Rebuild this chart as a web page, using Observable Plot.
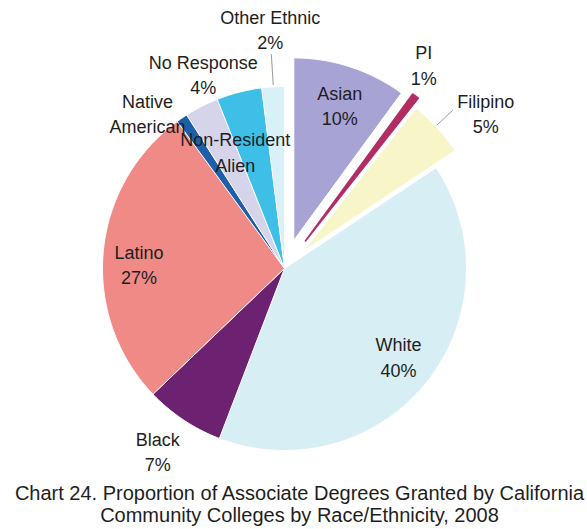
<!DOCTYPE html>
<html><head><meta charset="utf-8">
<script src="https://cdn.jsdelivr.net/npm/d3@7"></script>
<script src="https://cdn.jsdelivr.net/npm/@observablehq/plot@0.6"></script>
<style>
body{margin:0;background:#fff;font-family:"Liberation Sans",Arial,sans-serif;}
#cap{width:587px;text-align:center;font-size:20px;line-height:22px;color:#1e1e1e;padding-left:12px;box-sizing:border-box;margin-top:4px;white-space:nowrap}
</style></head><body>
<div id="chart"></div>
<div id="cap">Chart 24. Proportion of Associate Degrees Granted by California<br>Community Colleges by Race/Ethnicity, 2008</div>
<script>
// ---- data ----
const categories = ["Asian","PI","Filipino","White","Black","Latino","Native American","Non-Resident Alien","No Response","Other Ethnic"];
const shares = [10, 0.6, 5, 40, 7, 27, 1, 3, 4, 2];
const labelNames = ["Asian","PI","Filipino","White","Black","Latino","Native\nAmerican","Non-Resident\nAlien","No Response","Other Ethnic"];
const pctLabels = ["10%","1%","5%","40%","7%","27%","","","4%","2%"];
const colors = ["#a8a3d5","#b22d62","#f8f6c9","#d8eef5","#6c2271","#f08a86","#1f5ea8","#d6d4ea","#3dbfe8","#d8f0f8"];

// ---- layout (not data) ----
const W = 587, H = 478, CX = 284, CY = 268, R = 182;
const explode = {"Asian":0.165,"PI":0.19,"Filipino":0.14};
const labelPolar = { // radius (in pie radii) and angle nudge (deg) relative to slice middle
  "Asian":[0.95,0.6],"PI":[1.36,-3.0],"Filipino":[1.40,4.8],"White":[0.79,-1.2],
  "Black":[1.22,1.2],"Latino":[0.80,-3],"Native American":[1.14,-7.0],
  "Non-Resident Alien":[0.70,4.4],"No Response":[1.16,-8.2],"Other Ethnic":[1.32,0.2]
};
const leaders = [{cat:"Other Ethnic",r0:1.01,r1:1.18,da:0.1},{cat:"Filipino",r0:1.15,r1:1.27,da:-0.6}];
const thinSlices = ["PI"]; // outlined in their own colour so they stay visible

const arcs = d3.pie().sort(null).value(d => d)(shares);
const slices = arcs.map((a, i) => ({cat: categories[i], a0: a.startAngle, a1: a.endAngle, mid: (a.startAngle + a.endAngle) / 2}));
const byCat = Object.fromEntries(slices.map(s => [s.cat, s]));

const pts = [];
for (const s of slices) {
  const e = explode[s.cat] || 0;
  const ox = e * Math.sin(s.mid), oy = e * Math.cos(s.mid);
  pts.push({cat: s.cat, x: ox, y: oy});
  const n = Math.max(2, Math.ceil((s.a1 - s.a0) / (Math.PI / 360)));
  for (let k = 0; k <= n; k++) {
    const t = s.a0 + (s.a1 - s.a0) * k / n;
    pts.push({cat: s.cat, x: ox + Math.sin(t), y: oy + Math.cos(t)});
  }
}

const labels = categories.map((c, i) => {
  const s = byCat[c], [r, da] = labelPolar[c];
  const ang = s.mid + da * Math.PI / 180;
  return {cat: c, x: r * Math.sin(ang), y: r * Math.cos(ang),
          text: labelNames[i] + (pctLabels[i] ? "\n" + pctLabels[i] : "")};
});

const leaderPts = leaders.map(l => {
  const s = byCat[l.cat], ang = s.mid + l.da * Math.PI / 180;
  return {x1: l.r0 * Math.sin(ang), y1: l.r0 * Math.cos(ang), x2: l.r1 * Math.sin(ang), y2: l.r1 * Math.cos(ang)};
});

const chart = Plot.plot({
  width: W, height: H, margin: 0,
  x: {domain: [-CX / R, (W - CX) / R], axis: null},
  y: {domain: [-(H - CY) / R, CY / R], axis: null},
  color: {domain: categories, range: colors},
  style: {fontFamily: "'Liberation Sans', Arial, sans-serif", background: "#fff"},
  marks: [
    Plot.line(pts, {x: "x", y: "y", z: "cat", fill: "cat", stroke: "white", strokeWidth: 1, curve: "linear-closed"}),
    Plot.line(pts.filter(d => thinSlices.includes(d.cat)), {x: "x", y: "y", z: "cat", fill: "cat", stroke: colors[categories.indexOf("PI")], strokeWidth: 1.6, strokeLinejoin: "round", curve: "linear-closed"}),
    Plot.link(leaderPts, {x1: "x1", y1: "y1", x2: "x2", y2: "y2", stroke: "#999", strokeWidth: 1}),
    Plot.text(labels, {x: "x", y: "y", text: "text", fontSize: 18, lineHeight: 1.4, fill: "#1e1e1e", lineAnchor: "middle", textAnchor: "middle"})
  ]
});
document.getElementById("chart").append(chart);
</script>
</body></html>
